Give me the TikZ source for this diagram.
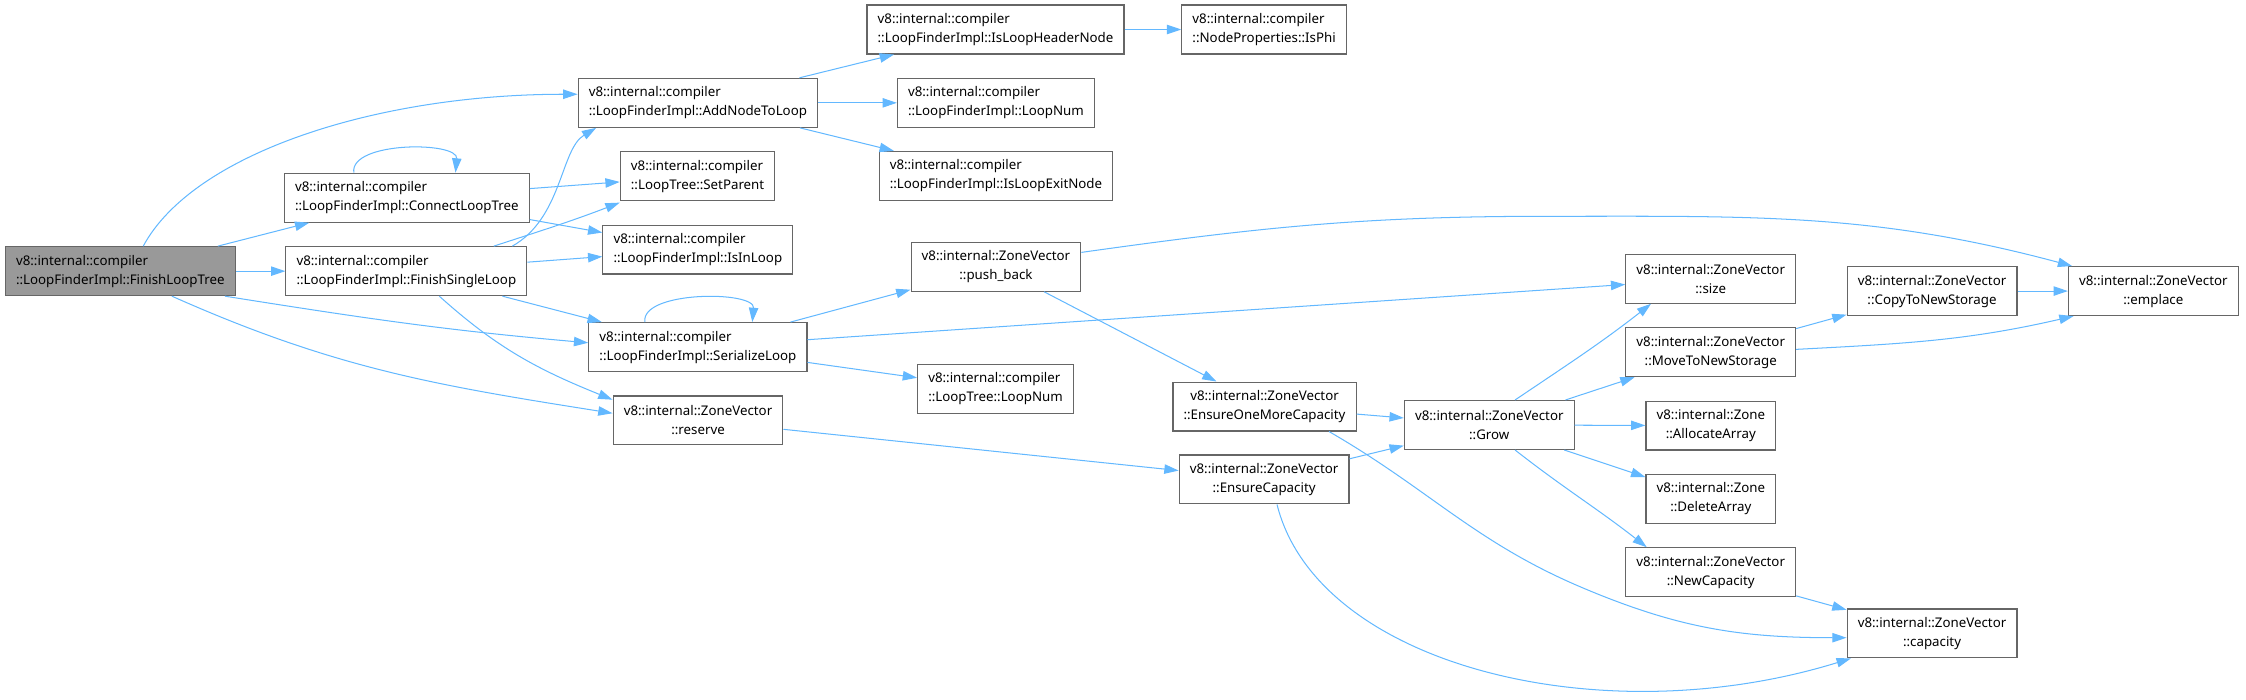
\documentclass[tikz,border=0pt]{standalone}
\usepackage{fontspec}
\setmainfont{Noto Sans}
\usetikzlibrary{arrows.meta}
\definecolor{edgeblue}{HTML}{63B8FF}
\definecolor{boxgray}{HTML}{666666}
\definecolor{rootgray}{HTML}{999999}
\begin{document}
\begin{tikzpicture}[x=0.7pt, y=-0.7pt,
	fn/.style={draw=boxgray, line width=0.55pt, fill=white, minimum height=23.9pt, inner xsep=5.2pt, inner ysep=0pt, align=center, font=\fontsize{6.5}{9.3}\selectfont},
	fnl/.style={fn, align=left},
	edge/.style={draw=edgeblue, line width=0.5pt, -{Triangle[length=7pt, width=4.6pt]}}]
	\useasboundingbox (0,0) rectangle (1568,488);
	
	% 1. 第一列与第二列函数节点
	\node[fnl, fill=rootgray] (flt) at (84,189.3) {v8::internal::compiler\\::LoopFinderImpl::FinishLoopTree};
	\node[fnl] (clt) at (284,138) {v8::internal::compiler\\::LoopFinderImpl::ConnectLoopTree};
	\node[fnl] (fsl) at (283.7,189.3) {v8::internal::compiler\\::LoopFinderImpl::FinishSingleLoop};
	
	% 2. 第三列
	\node[fnl] (anl) at (487.2,71.8) {v8::internal::compiler\\::LoopFinderImpl::AddNodeToLoop};
	\node[fnl] (sp) at (487,123) {v8::internal::compiler\\::LoopTree::SetParent};
	\node[fnl] (iil) at (487.2,174.2) {v8::internal::compiler\\::LoopFinderImpl::IsInLoop};
	\node[fnl] (sl) at (487.2,242.3) {v8::internal::compiler\\::LoopFinderImpl::SerializeLoop};
	\node[fn] (reserve) at (487.3,293.5) {v8::internal::ZoneVector\\::reserve};
	
	% 3. 第四列
	\node[fnl] (ilhn) at (695,20.6) {v8::internal::compiler\\::LoopFinderImpl::IsLoopHeaderNode};
	\node[fnl] (lfln) at (695.3,71.8) {v8::internal::compiler\\::LoopFinderImpl::LoopNum};
	\node[fnl] (ilen) at (695.3,122.8) {v8::internal::compiler\\::LoopFinderImpl::IsLoopExitNode};
	\node[fn] (pb) at (695.3,186.2) {v8::internal::ZoneVector\\::push\_back};
	\node[fnl] (ltln) at (695,271.4) {v8::internal::compiler\\::LoopTree::LoopNum};
	
	% 4. 第五列与第六列
	\node[fnl] (isphi) at (882.5,20.6) {v8::internal::compiler\\::NodeProperties::IsPhi};
	\node[fn] (eomc) at (882.8,283.8) {v8::internal::ZoneVector\\::EnsureOneMoreCapacity};
	\node[fn] (ec) at (882.5,334.7) {v8::internal::ZoneVector\\::EnsureCapacity};
	\node[fn] (grow) at (1039.7,296.7) {v8::internal::ZoneVector\\::Grow};
	
	% 5. 右侧 ZoneVector 节点
	\node[fn] (size) at (1194.3,194.6) {v8::internal::ZoneVector\\::size};
	\node[fn] (mtns) at (1194.3,245.9) {v8::internal::ZoneVector\\::MoveToNewStorage};
	\node[fn] (aa) at (1194.4,297.1) {v8::internal::Zone\\::AllocateArray};
	\node[fn] (da) at (1194.4,348.3) {v8::internal::Zone\\::DeleteArray};
	\node[fn] (nc) at (1194.3,399.5) {v8::internal::ZoneVector\\::NewCapacity};
	\node[fn] (ctns) at (1348.8,203.2) {v8::internal::ZoneVector\\::CopyToNewStorage};
	\node[fn] (emplace) at (1503.3,203.2) {v8::internal::ZoneVector\\::emplace};
	\node[fn] (cap) at (1348.8,442.2) {v8::internal::ZoneVector\\::capacity};
	
	% 6. 调用边 (FinishLoopTree)
	\draw[edge] ([shift={(16,0)}]flt.north) .. controls +(35,-65) and +(-140,0) .. ([shift={(0,-6)}]anl.west);
	\draw[edge] (flt) -- (clt);
	\draw[edge] (flt) -- (fsl);
	\draw[edge] ([shift={(73,0)}]flt.south) to[out=-9, in=175] ([shift={(0,-3)}]sl.west);
	\draw[edge] ([shift={(36,0)}]flt.south) to[out=-24, in=171] ([shift={(0,-5)}]reserve.west);
	
	% 自调用环
	\draw[edge] ([shift={(-37,0)}]clt.north) .. controls +(-3,-22) and +(2,-22) .. ([shift={(34,0)}]clt.north);
	\draw[edge] (clt) -- (sp);
	\draw[edge] (clt) -- (iil);
	
	% FinishSingleLoop
	\draw[edge] ([shift={(74,0)}]fsl.north) .. controls +(35,-20) and +(-25,15) .. ([shift={(13,0)}]anl.south west);
	\draw[edge] ([shift={(61,0)}]fsl.north) to[out=18, in=-159] ([shift={(0,1)}]sp.south west);
	\draw[edge] (fsl) -- (iil);
	\draw[edge] (fsl) -- (sl);
	\draw[edge] ([shift={(23,0)}]fsl.south) to[out=-42, in=158] ([shift={(0,3)}]reserve.north west);
	
	% SerializeLoop
	\draw[edge] ([shift={(-37,0)}]sl.north) .. controls +(-3,-22) and +(2,-22) .. ([shift={(38,0)}]sl.north);
	\draw[edge] (sl) -- (pb);
	\draw[edge] (sl) -- (size);
	\draw[edge] (sl) -- (ltln);
	\draw[edge] (reserve) -- (ec);
	
	% AddNodeToLoop
	\draw[edge] (anl) -- (ilhn);
	\draw[edge] (anl) -- (lfln);
	\draw[edge] (anl) -- (ilen);
	\draw[edge] (ilhn) -- (isphi);
	
	% 7. ZoneVector 调用边
	\draw[edge] ([shift={(0,-10)}]pb.east) to[out=8, in=180] (1080,151) to[out=0, in=165] ([shift={(3,0)}]emplace.north west);
	\draw[edge] (pb) -- (eomc);
	\draw[edge] (eomc) -- (grow);
	\draw[edge] ([shift={(45,0)}]eomc.south) to[out=-30, in=157] (1104,410) to[out=-23, in=180] ([shift={(0,3)}]cap.west);
	\draw[edge] (ec) -- (grow);
	\draw[edge] ([shift={(9,0)}]ec.south) .. controls +(28,112) and +(-175,54) .. ([shift={(3,0)}]cap.south west);
	
	% Grow
	\draw[edge] ([shift={(18,0)}]grow.north) to[out=34, in=-142] ([shift={(18,0)}]size.south west);
	\draw[edge] (grow) -- (mtns);
	\draw[edge] (grow) -- (aa);
	\draw[edge] (grow) -- (da);
	\draw[edge] ([shift={(18,0)}]grow.south) to[out=-38, in=142] ([shift={(15,0)}]nc.north west);
	
	% MoveToNewStorage 等
	\draw[edge] (mtns) -- (ctns);
	\draw[edge] ([shift={(0,-2)}]mtns.east) to[out=3, in=-167] ([shift={(4,0)}]emplace.south west);
	\draw[edge] (ctns) -- (emplace);
	\draw[edge] (nc) -- (cap);
\end{tikzpicture}
\end{document}
